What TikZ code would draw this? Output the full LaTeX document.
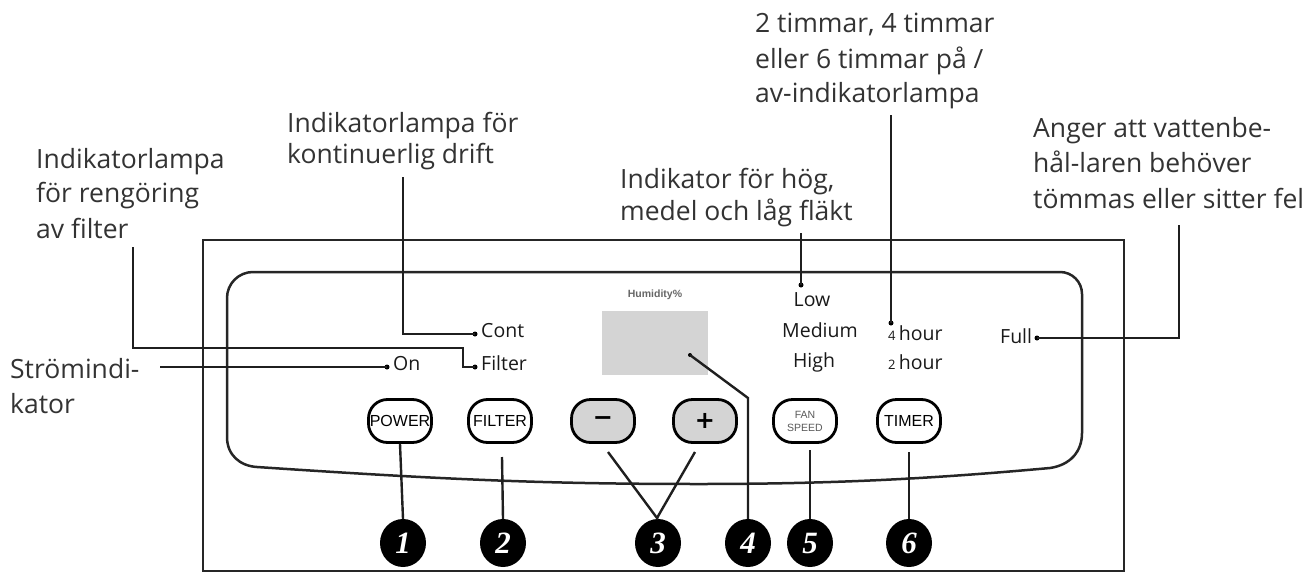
\documentclass[tikz,border=0pt]{standalone}
\usepackage{fontspec}
\setmainfont{Open Sans}
\newfontfamily\btnfont{Liberation Sans}
\newfontfamily\numfont{Liberation Serif}
\newfontfamily\symfont{DejaVu Sans}
\usetikzlibrary{shapes.geometric}
\begin{document}
\begin{tikzpicture}[x=1pt,y=-1pt,
  lbl/.style={font=\fontsize{26.5}{34}\selectfont, text=black!80, align=left, inner sep=0, anchor=base west},
  ptxt/.style={font=\fontsize{19.5}{20}\selectfont, text=black!90, inner sep=0, anchor=base west},
  conn/.style={line width=2.4pt, draw=black!88},
  frame/.style={line width=2.8pt, draw=black!85},
  dotp/.style={circle, fill=black, inner sep=0, minimum size=5pt},
  btn/.style={draw=black, line width=2.8pt, rounded corners=19pt, minimum width=63pt, minimum height=43pt, inner sep=0, fill=white, font=\btnfont\fontsize{16}{16}\selectfont},
  gbtn/.style={btn, fill=black!17, font=\symfont\bfseries\fontsize{24}{24}\selectfont},
  numc/.style={ellipse, fill=black, minimum width=46pt, minimum height=48pt, inner sep=0, text=white, font=\numfont\itshape\bfseries\fontsize{31}{31}\selectfont}
]
\useasboundingbox (0,0) rectangle (1315,573);

% outer frame and inner panel
\draw[frame] (203,240) rectangle (1124,571);
\draw[frame, line width=2.5pt] (227,437) -- (227,298) arc[start angle=180, end angle=270, radius=26] -- (1060,272) arc[start angle=270, end angle=360, radius=22] -- (1082,433)
  .. controls (1082,452) and (1070,465) .. (1050,468)
  .. controls (950,477) and (850,484) .. (700,484)
  .. controls (550,484) and (450,480) .. (257,467)
  .. controls (240,466) and (227,455) .. (227,437) -- cycle;

% display
\fill[black!17] (602,311) rectangle (708,375);
\node[font=\btnfont\bfseries\fontsize{10.5}{11}\selectfont, text=black!60, inner sep=0] (hum) at (655,295) {Humidity\%};

% labels (anchor = baseline of the last line)
\node[lbl] (lfilt) at (36,238) {Indikatorlampa\\för rengöring\\[2pt]av filter};
\node[lbl] (lcont) at (287,163) {Indikatorlampa för\\[-3pt]kontinuerlig drift};
\node[lbl] (lfan) at (620,220) {Indikator för hög,\\[-2pt]medel och låg fläkt};
\node[lbl] (ltim) at (755,102) {2 timmar, 4 timmar\\[2pt]eller 6 timmar på /\\av-indikatorlampa};
\node[lbl] (lfull) at (1033,208) {Anger att vattenbe-\\[1pt]hål-laren behöver\\[2pt]tömmas eller sitter fel};
\node[lbl] (lstr) at (10,413) {Strömindi-\\[1pt]kator};

% panel texts
\node[ptxt] (ton) at (393,370) {On};
\node[ptxt] (tcont) at (481,337) {Cont};
\node[ptxt] (tfilt) at (481,370) {Filter};
\node[ptxt, anchor=base] (tlow) at (812,306) {Low};
\node[ptxt, anchor=base] (tmed) at (820,337) {Medium};
\node[ptxt, anchor=base] (thigh) at (814,367) {High};
\node[ptxt] (t4) at (888,340) {{\fontsize{13}{13}\selectfont 4}\,hour};
\node[ptxt] (t2) at (888,369) {{\fontsize{13}{13}\selectfont 2}\,hour};
\node[ptxt] (tfull) at (1000,343) {Full};

% dots
\node[dotp] (dOn) at (387,367) {};
\node[dotp] (dCont) at (475,334) {};
\node[dotp] (dFilt) at (475,367) {};
\node[dotp] (dFan) at (801,285) {};
\node[dotp] (dTim) at (891,323) {};
\node[dotp] (dFull) at (1037,338) {};
\node[dotp, minimum size=4pt] (dDisp) at (690,355) {};

% connector start points
\coordinate (cStr) at (160,367);
\coordinate (cFilt) at (133,247);
\coordinate (cCont) at (403,177);
\coordinate (cFan) at (801,233);
\coordinate (cTim) at (891,115);
\coordinate (cFull) at (1179,225);
\coordinate (kDisp) at (748,398);

\draw[conn] (cStr) -- (dOn.center);
\draw[conn] (cFilt) -- (133,348) -- (463,348) -- (463,367) -- (dFilt.center);
\draw[conn] (cCont) -- (403,334) -- (dCont.center);
\draw[conn] (cFan) -- (dFan.center);
\draw[conn] (cTim) -- (dTim.center);
\draw[conn] (cFull) -- (1179,338) -- (dFull.center);

% buttons
\node[btn] (bpow) at (400,421) {\kern-1pt POWER\kern-1pt};
\node[btn] (bfil) at (500,421) {FILTER};
\node[gbtn] (bmin) at (603,421) {−};
\node[gbtn] (bplu) at (705,421) {+};
\node[btn, align=center, font=\btnfont\fontsize{10.5}{13}\selectfont, text=black!65] (bfan) at (805,421) {FAN\\SPEED};
\node[btn] (btim) at (909,421) {TIMER};

% numbers
\node[numc] (n1) at (403,543) {1};
\node[numc] (n2) at (503,543) {2};
\node[numc] (n3) at (658,543) {3};
\node[numc] (n4) at (748,543) {4};
\node[numc] (n5) at (810,543) {5};
\node[numc] (n6) at (909,543) {6};

\coordinate (s2) at (502,457);
\coordinate (s3a) at (608,452);
\coordinate (s3b) at (695,452);
\coordinate (s5) at (810,450);
\coordinate (s6) at (909,452);
\coordinate (m3) at (657,518);

\draw[conn] (bpow.south) -- (n1.north);
\draw[conn] (s2) -- (n2.north);
\draw[conn] (s3a) -- (m3) -- (s3b);
\draw[conn] (m3) -- (n3.north);
\draw[conn] (dDisp.center) -- (kDisp) -- (n4.north);
\draw[conn] (s5) -- (n5.north);
\draw[conn] (s6) -- (n6.north);
\end{tikzpicture}
\end{document}
